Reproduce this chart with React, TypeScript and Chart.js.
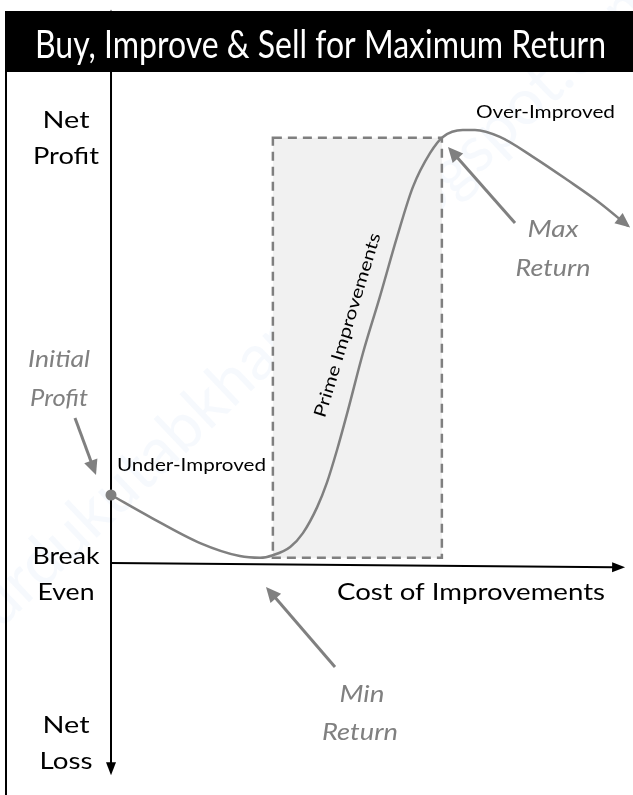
import React, { useEffect, useRef } from "react";
import { Chart, registerables } from "chart.js";

Chart.register(...registerables);

// Conceptual curve: net profit vs. cost of improvements
const costValues = [0, 0.77, 1.75, 2.53, 2.93, 3.18, 3.52, 3.77, 4.05, 4.24, 4.44, 4.64, 4.95, 5.28, 5.62, 5.93, 6.27, 6.52, 6.91, 7.15, 7.64, 8.29, 8.96, 9.61, 10.16];
const profitValues = [1.57, 1.06, 0.46, 0.16, 0.12, 0.18, 0.37, 0.69, 1.29, 1.85, 2.61, 3.46, 4.85, 6.14, 7.53, 8.68, 9.47, 9.84, 10.0, 10.0, 9.84, 9.38, 8.85, 8.31, 7.78];
const primeZoneX = [3.18, 6.5];
const primeZoneY = [0.12, 9.82];
const xAxisEnd = [10.1, -0.1];
const yAxisRange = [12.78, -4.9];

const TITLE = "Buy, Improve & Sell for Maximum Return";
const FONT = "Lato, 'Open Sans', sans-serif";

function txt(ctx: CanvasRenderingContext2D, s: string, x: number, y: number, size: number, width: number | null, color: string, italic = false, align: CanvasTextAlign = "left") {
  ctx.save();
  ctx.font = `${italic ? "italic " : ""}${size}px ${FONT}`;
  const w = ctx.measureText(s).width;
  const sx = width ? width / w : 1;
  ctx.translate(x, y);
  ctx.scale(sx, 1);
  ctx.textAlign = align;
  ctx.textBaseline = "alphabetic";
  ctx.fillStyle = color;
  ctx.fillText(s, 0, 0);
  ctx.restore();
}

function head(ctx: CanvasRenderingContext2D, x1: number, y1: number, x2: number, y2: number, len: number, hw: number, color: string) {
  const a = Math.atan2(y2 - y1, x2 - x1);
  ctx.save();
  ctx.fillStyle = color;
  ctx.beginPath();
  ctx.moveTo(x2, y2);
  ctx.lineTo(x2 - len * Math.cos(a) + hw * Math.sin(a), y2 - len * Math.sin(a) - hw * Math.cos(a));
  ctx.lineTo(x2 - len * Math.cos(a) - hw * Math.sin(a), y2 - len * Math.sin(a) + hw * Math.cos(a));
  ctx.closePath();
  ctx.fill();
  ctx.restore();
}

function arrow(ctx: CanvasRenderingContext2D, x1: number, y1: number, x2: number, y2: number, color: string, lw: number, len: number, hw: number) {
  const a = Math.atan2(y2 - y1, x2 - x1);
  ctx.save();
  ctx.strokeStyle = color;
  ctx.lineWidth = lw;
  ctx.beginPath();
  ctx.moveTo(x1, y1);
  ctx.lineTo(x2 - (len - 2) * Math.cos(a), y2 - (len - 2) * Math.sin(a));
  ctx.stroke();
  ctx.restore();
  head(ctx, x1, y1, x2, y2, len, hw, color);
}

const diagramPlugin = {
  id: "diagram",
  beforeDatasetsDraw(chart: any) {
    const ctx: CanvasRenderingContext2D = chart.ctx;
    const xs = chart.scales.x;
    const ys = chart.scales.y;
    ctx.save();
    // faint watermark
    ctx.save();
    ctx.translate(318, 300);
    ctx.rotate(-0.76);
    ctx.font = `64px ${FONT}`;
    ctx.fillStyle = "rgba(205,222,245,0.18)";
    ctx.textAlign = "center";
    ctx.fillText("urdukutabkhanapk.blogspot.com", 0, 20);
    ctx.restore();

    // prime improvements zone
    const rx1 = xs.getPixelForValue(primeZoneX[0]);
    const rx2 = xs.getPixelForValue(primeZoneX[1]);
    const ry1 = ys.getPixelForValue(primeZoneY[1]);
    const ry2 = ys.getPixelForValue(primeZoneY[0]);
    ctx.fillStyle = "#f1f1f1";
    ctx.fillRect(rx1, ry1, rx2 - rx1, ry2 - ry1);
    ctx.strokeStyle = "#7f7f7f";
    ctx.lineWidth = 2.5;
    ctx.setLineDash([9, 6]);
    ctx.strokeRect(rx1, ry1, rx2 - rx1, ry2 - ry1);
    ctx.setLineDash([]);

    // title band & left border
    ctx.fillStyle = "#000";
    ctx.fillRect(5, 11, 628, 61);
    ctx.fillRect(5, 72, 2, 723);
    txt(ctx, TITLE, 35, 58, 38, 571, "#fff");

    // axes
    const ox = xs.getPixelForValue(0);
    const oy = ys.getPixelForValue(0);
    const ex = xs.getPixelForValue(xAxisEnd[0]);
    const ey = ys.getPixelForValue(xAxisEnd[1]);
    const yt = ys.getPixelForValue(yAxisRange[0]);
    const yb = ys.getPixelForValue(yAxisRange[1]);
    arrow(ctx, ox, oy, ex, ey, "#000", 2, 13, 5);
    arrow(ctx, ox, oy, ox, yt, "#000", 2, 13, 5);
    arrow(ctx, ox, oy, ox, yb, "#000", 2, 13, 5);
    ctx.restore();
  },
  afterDatasetsDraw(chart: any) {
    const ctx: CanvasRenderingContext2D = chart.ctx;
    const xs = chart.scales.x;
    const ys = chart.scales.y;
    ctx.save();
    // curve end arrowhead
    const n = costValues.length;
    const x2 = xs.getPixelForValue(costValues[n - 1]);
    const y2 = ys.getPixelForValue(profitValues[n - 1]);
    const x1 = xs.getPixelForValue(costValues[n - 2]);
    const y1 = ys.getPixelForValue(profitValues[n - 2]);
    head(ctx, x1, y1, x2 + 2, y2 + 1.5, 15, 6.5, "#7f7f7f");

    // axis labels
    txt(ctx, "Net", 66, 128, 24, 47, "#000", false, "center");
    txt(ctx, "Profit", 66, 164, 24, 66, "#000", false, "center");
    txt(ctx, "Break", 66, 564, 24, 67, "#000", false, "center");
    txt(ctx, "Even", 66, 600, 24, 57, "#000", false, "center");
    txt(ctx, "Net", 66, 733, 24, 47, "#000", false, "center");
    txt(ctx, "Loss", 66, 769, 24, 53, "#000", false, "center");
    txt(ctx, "Cost of Improvements", 337, 600, 24, 268, "#000");

    // state labels
    txt(ctx, "Under-Improved", 117, 471, 17, 149, "#000");
    txt(ctx, "Over-Improved", 476, 118, 17, 139, "#000");

    // Prime Improvements rotated
    ctx.save();
    ctx.translate(347, 325);
    ctx.rotate(-Math.atan2(184, 56));
    txt(ctx, "Prime Improvements", 0, 6, 17, 192, "#000", false, "center");
    ctx.restore();

    // gray annotations
    const g = "#808080";
    txt(ctx, "Initial", 59, 367, 24, 62, g, true, "center");
    txt(ctx, "Profit", 59, 406, 24, 58, g, true, "center");
    arrow(ctx, 75, 418, 96, 475, g, 3, 15, 7);

    txt(ctx, "Max", 553, 237, 24, 51, g, true, "center");
    txt(ctx, "Return", 553, 276, 24, 75, g, true, "center");
    arrow(ctx, 515, 223, 448, 147, g, 3, 15, 7);

    txt(ctx, "Min", 362, 702, 24, 45, g, true, "center");
    txt(ctx, "Return", 360, 740, 24, 76, g, true, "center");
    arrow(ctx, 335, 667, 266, 587, g, 3, 15, 7);
    ctx.restore();
  },
};

export default function App() {
  const ref = useRef<HTMLCanvasElement | null>(null);
  useEffect(() => {
    if (!ref.current) return;
    const pts = costValues.map((x, i) => ({ x, y: profitValues[i] }));
    const chart = new Chart(ref.current, {
      type: "line",
      data: {
        datasets: [
          {
            data: pts,
            borderColor: "#808080",
            borderWidth: 2.5,
            cubicInterpolationMode: "monotone",
            pointRadius: pts.map((_, i) => (i === 0 ? 5.5 : 0)),
            pointBackgroundColor: "#808080",
            pointBorderWidth: 0,
            fill: false,
            clip: false,
          },
        ],
      },
      options: {
        responsive: false,
        animation: false,
        devicePixelRatio: 1,
        layout: { padding: 0, autoPadding: false },
        plugins: { legend: { display: false }, tooltip: { enabled: false } },
        scales: {
          x: { type: "linear", display: false, min: -2.181, max: 10.255 },
          y: { type: "linear", display: false, min: -5.358, max: 13.002 },
        },
      },
      plugins: [diagramPlugin],
    } as any);
    return () => chart.destroy();
  }, []);
  return (
    <div style={{ position: "absolute", left: 0, top: 0, width: 633, height: 795, background: "#fff" }}>
      <canvas ref={ref} width={633} height={795} style={{ display: "block" }} />
    </div>
  );
}
